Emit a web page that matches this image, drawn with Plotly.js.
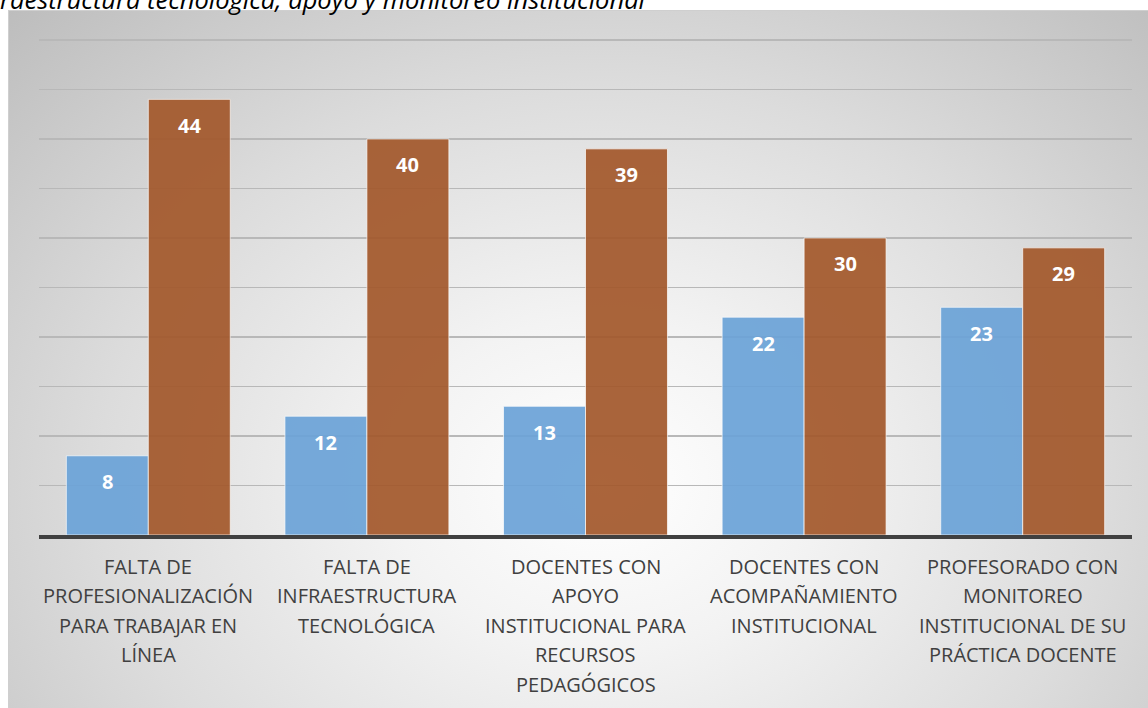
<!DOCTYPE html>
<html>
<head>
<meta charset="utf-8">
<script src="https://cdn.plot.ly/plotly-3.0.1.min.js"></script>
<style>
  html, body { margin: 0; padding: 0; background: #ffffff; width: 1148px; height: 708px; overflow: hidden; }
  #frame { position: absolute; left: 8px; top: 10px; width: 1140px; height: 698px;
    box-sizing: border-box; border-top: 1px solid #cfcfcf; border-left: 1px solid #cfcfcf;
    background: radial-gradient(ellipse farthest-corner at 52% 68%, #ffffff 0%, #f3f3f3 25%, #dcdcdc 60%, #bdbdbd 100%); }
  #chart { position: absolute; left: 0; top: 0; width: 1148px; height: 708px; }
</style>
</head>
<body>
<div id="frame"></div>
<div id="chart"></div>
<script>
const categories = [
  "FALTA DE<br>PROFESIONALIZACIÓN<br>PARA TRABAJAR EN<br>LÍNEA",
  "FALTA DE<br>INFRAESTRUCTURA<br>TECNOLÓGICA",
  "DOCENTES CON<br>APOYO<br>INSTITUCIONAL PARA<br>RECURSOS<br>PEDAGÓGICOS",
  "DOCENTES CON<br>ACOMPAÑAMIENTO<br>INSTITUCIONAL",
  "PROFESORADO CON<br>MONITOREO<br>INSTITUCIONAL DE SU<br>PRÁCTICA DOCENTE"
];
const seriesA = [8, 12, 13, 22, 23];
const seriesB = [44, 40, 39, 30, 29];
const titleText = "raestructura tecnológica, apoyo y monitoreo institucional";
const yTicks = [0, 5, 10, 15, 20, 25, 30, 35, 40, 45, 50];

const blue = "#6ba3d8";
const brown = "#a3582b";

const traces = [
  { type: "bar", x: categories, y: seriesA, name: "A",
    marker: { color: blue, opacity: 0.92, line: { color: "rgba(255,255,255,0.7)", width: 1 } },
    hoverinfo: "skip" },
  { type: "bar", x: categories, y: seriesB, name: "B",
    marker: { color: brown, opacity: 0.92, line: { color: "rgba(255,255,255,0.7)", width: 1 } },
    hoverinfo: "skip" }
];

const annotations = [];
const labelFont = { family: "Open Sans, sans-serif", size: 20, color: "#ffffff", weight: "bold" };
categories.forEach((c, i) => {
  annotations.push({ x: c, y: seriesA[i], xref: "x", yref: "y", text: "<b>" + seriesA[i] + "</b>",
    showarrow: false, xshift: -41, yshift: -26, yanchor: "middle", font: labelFont });
  annotations.push({ x: c, y: seriesB[i], xref: "x", yref: "y", text: "<b>" + seriesB[i] + "</b>",
    showarrow: false, xshift: 41, yshift: -26, yanchor: "middle", font: labelFont });
  const lines = c.split("<br>");
  lines.forEach((ln, j) => {
    annotations.push({ x: c, y: 0, xref: "x", yref: "paper", text: ln, showarrow: false,
      yanchor: "middle", yshift: -(31 + j * 29.5),
      font: { family: "Open Sans, sans-serif", size: 20, color: "#404040" } });
  });
});
annotations.push({ x: 0, y: 1, xref: "paper", yref: "paper", text: "<i>" + titleText + "</i>",
  showarrow: false, xanchor: "left", yanchor: "top", xshift: -41, yshift: 55,
  font: { family: "Open Sans, sans-serif", size: 25.5, color: "#000000" } });

const layout = {
  width: 1148, height: 708,
  margin: { l: 39, r: 16, t: 35, b: 173 },
  paper_bgcolor: "rgba(0,0,0,0)",
  plot_bgcolor: "rgba(0,0,0,0)",
  barmode: "group",
  bargap: 0.25,
  bargroupgap: 0,
  showlegend: false,
  xaxis: { showticklabels: false, ticks: "", showgrid: false, showline: true,
    linecolor: "#404040", linewidth: 4, fixedrange: true },
  yaxis: { range: [0, 50.5], tickvals: yTicks, showticklabels: false, ticks: "",
    showgrid: true, gridcolor: "#b8b8b8", gridwidth: 1.5, zeroline: false, showline: false },
  annotations: annotations
};

Plotly.newPlot("chart", traces, layout, { displayModeBar: false, staticPlot: true });
</script>
</body>
</html>
